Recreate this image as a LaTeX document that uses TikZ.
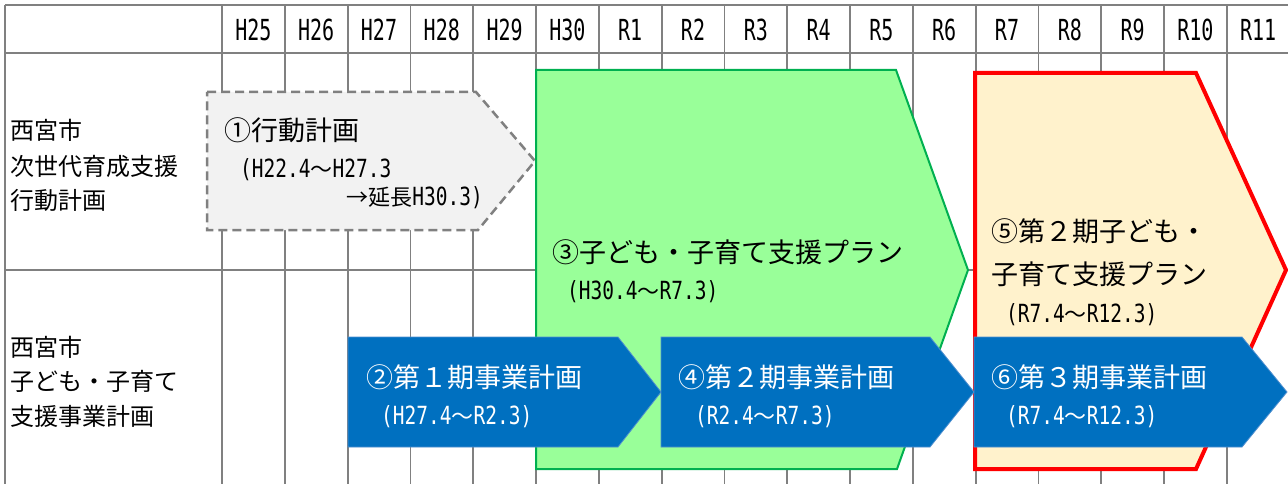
\documentclass[tikz,border=0pt]{standalone}
\usepackage{fontspec}
\setmainfont{Noto Sans CJK JP}
\newfontfamily\jpfont{Noto Sans CJK JP}
\newfontfamily\hdfont[FakeStretch=0.69]{DejaVu Sans Mono}
\newfontfamily\dtfont[FakeStretch=0.78]{DejaVu Sans Mono}
\definecolor{gridgray}{HTML}{808080}
\definecolor{grayfill}{HTML}{F2F2F2}
\definecolor{greenfill}{HTML}{99FF99}
\definecolor{greenline}{HTML}{00B050}
\definecolor{redfill}{HTML}{FFF2CC}
\definecolor{redline}{HTML}{FF0000}
\definecolor{bluefill}{HTML}{0070C0}
\definecolor{blueline}{HTML}{4F8FCF}
\newcommand\dtx[1]{{\dtfont\fontsize{25}{25}\selectfont #1}}
\newcommand\wavex{{\jpfont\fontsize{22}{22}\selectfont ～}}
\tikzset{
  gridline/.style={draw=gridgray, line width=1.8pt},
  lbl/.style={anchor=west, inner sep=0pt, font=\fontsize{24}{24}\selectfont},
  ttl/.style={anchor=west, inner sep=0pt, font=\fontsize{27}{27}\selectfont},
  dat/.style={anchor=west, inner sep=0pt},
  hdr/.style={inner sep=0pt, font=\hdfont\fontsize{29}{29}\selectfont},
  grayshape/.style={fill=grayfill, draw=gridgray, line width=2.5pt, dash pattern=on 9pt off 5pt},
  greenshape/.style={fill=greenfill, draw=greenline, line width=2pt},
  redshape/.style={fill=redfill, draw=redline, line width=4pt},
  blueshape/.style={fill=bluefill, draw=blueline, line width=0.8pt},
}
\begin{document}
\begin{tikzpicture}[x=1pt,y=-1pt]
\useasboundingbox (0,0) rectangle (1288,484);
\fill[white] (0,0) rectangle (1288,484);
% grid
\draw[gridline] (5,5) -- (1288,5);
\draw[gridline] (5,53) -- (1288,53);
\draw[gridline] (5,270) -- (1288,270);
\draw[gridline] (5,5) -- (5,484);
\foreach \k in {0,...,16} \draw[gridline] ({222+62.8*\k},5) -- ({222+62.8*\k},484);
% header
\foreach \lab [count=\i from 0] in {H25,H26,H27,H28,H29,H30,R1,R2,R3,R4,R5,R6,R7,R8,R9,R10,R11}
  \node[hdr] (h\i) at ({222+62.8*(\i+0.5)},30) {\lab};
% left labels
\node[lbl] (l1a) at (10,130) {西宮市};
\node[lbl] (l1b) at (10,166) {次世代育成支援};
\node[lbl] (l1c) at (10,200) {行動計画};
\node[lbl] (l2a) at (10,347) {西宮市};
\node[lbl] (l2b) at (10,381) {子ども・子育て};
\node[lbl] (l2c) at (10,416) {支援事業計画};
% shapes
\draw[grayshape] (207,92) -- (476,92) -- (535,161) -- (478,230) -- (207,230) -- cycle;
\draw[greenshape] (536,70) -- (896,70) -- (968,270) -- (897,469) -- (536,469) -- cycle;
\draw[redshape] (975,73) -- (1196,73) -- (1286,270) -- (1196,469) -- (975,469) -- cycle;
\draw[blueshape] (348,337) -- (618,337) -- (661,392) -- (618,447) -- (348,447) -- cycle;
\draw[blueshape] (661,337) -- (930,337) -- (974,392) -- (930,447) -- (661,447) -- cycle;
\draw[blueshape] (974,337) -- (1242,337) -- (1287,392) -- (1242,447) -- (974,447) -- cycle;
% texts in shapes
\node[ttl] (t1) at (224,130) {①行動計画};
\node[dat] (d1a) at (240,170) {\dtx{(H22.4}\wavex\dtx{H27.3}};
\node[dat, anchor=east] (d1b) at (483,198) {{\jpfont\fontsize{22}{22}\selectfont →延長}\dtx{H30.3)}};
\node[ttl] (t3) at (552,252) {③子ども・子育て支援プラン};
\node[dat] (d3) at (567,292) {\dtx{(H30.4}\wavex\dtx{R7.3)}};
\node[ttl] (t5a) at (991,231) {⑤第２期子ども・};
\node[ttl] (t5b) at (991,274) {子育て支援プラン};
\node[dat] (d5) at (1006,315) {\dtx{(R7.4}\wavex\dtx{R12.3)}};
\node[ttl, text=white] (t2) at (366,377) {②第１期事業計画};
\node[dat, text=white] (d2) at (381,417) {\dtx{(H27.4}\wavex\dtx{R2.3)}};
\node[ttl, text=white] (t4) at (678,377) {④第２期事業計画};
\node[dat, text=white] (d4) at (695,417) {\dtx{(R2.4}\wavex\dtx{R7.3)}};
\node[ttl, text=white] (t6) at (991,377) {⑥第３期事業計画};
\node[dat, text=white] (d6) at (1006,417) {\dtx{(R7.4}\wavex\dtx{R12.3)}};
\end{tikzpicture}
\end{document}
